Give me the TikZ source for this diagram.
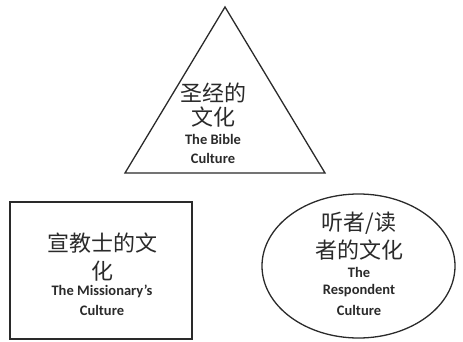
\documentclass[tikz,border=0pt]{standalone}
\usepackage{fontspec}
\setmainfont{Carlito}
\newfontfamily\cjk{Noto Sans CJK SC}
\usetikzlibrary{shapes.geometric}
\definecolor{ink}{HTML}{2A2A2A}
\tikzset{
  shapeline/.style={draw=ink, line width=1.3pt},
  zh/.style={font=\cjk\fontsize{22}{26}\selectfont, text=ink, inner sep=0pt},
  en/.style={font=\bfseries\fontsize{14.5}{17}\selectfont, text=ink, inner sep=0pt},
}
\begin{document}
\begin{tikzpicture}[x=1pt,y=-1pt]
\useasboundingbox (0,0) rectangle (463,342);
% triangle
\coordinate (apex) at (225,7);
\coordinate (bl) at (125,173);
\coordinate (br) at (325,173);
\draw[shapeline, line join=miter] (apex) -- (bl) -- (br) -- cycle;
\node[zh] (t1) at (213,93) {圣经的};
\node[zh] (t2) at (213,117) {文化};
\node[en] (t3) at (213,139) {The Bible};
\node[en] (t4) at (213,158) {Culture};
% rectangle
\node[shapeline, rectangle, minimum width=182pt, minimum height=137pt, inner sep=0pt] (box) at (101,270.5) {};
\node[zh] (m1) at (102,243) {宣教士的文};
\node[zh] (m2) at (102,271) {化};
\node[en] (m3) at (102,291) {The Missionary's};
\node[en] (m4) at (102,310) {Culture};
% ellipse
\node[shapeline, ellipse, minimum width=193pt, minimum height=144pt, inner sep=0pt] (ell) at (358.5,266) {};
\node[zh] (r1) at (359,223) {听者/读};
\node[zh] (r2) at (359,250) {者的文化};
\node[en] (r3) at (359,272) {The};
\node[en] (r4) at (359,291) {Respondent};
\node[en] (r5) at (359,310) {Culture};
\end{tikzpicture}
\end{document}
